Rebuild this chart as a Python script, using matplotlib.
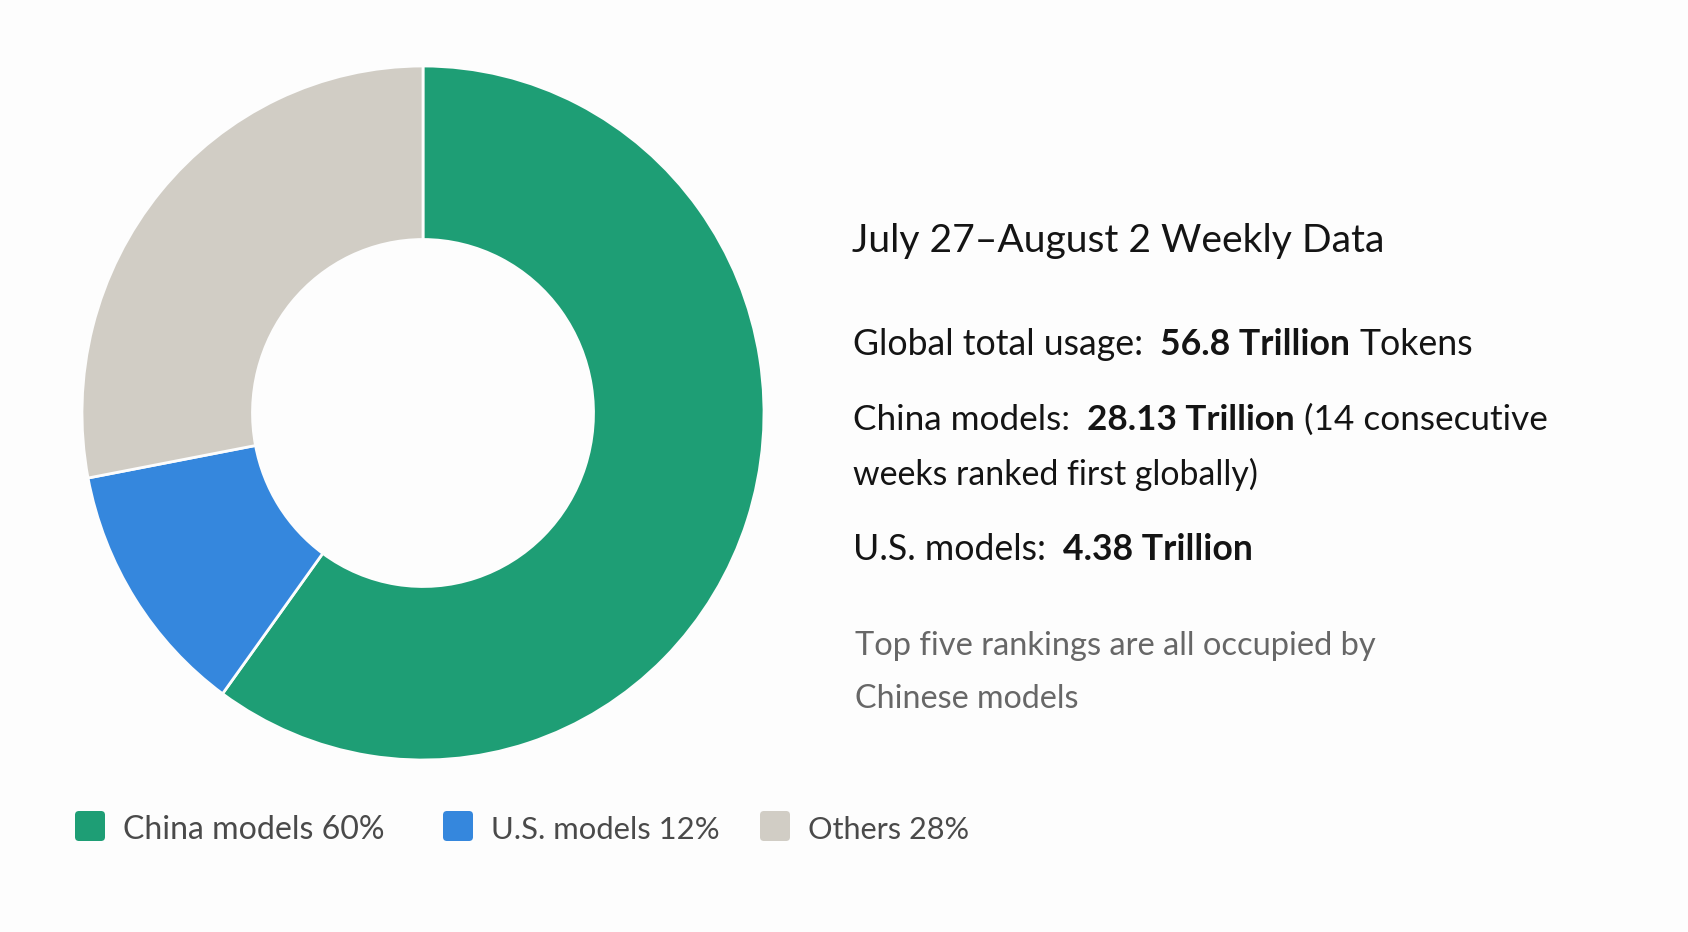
import matplotlib
matplotlib.use("Agg")
import matplotlib.pyplot as plt
from matplotlib.patches import FancyBboxPatch

# --- data -------------------------------------------------------------
categories = ["China models", "U.S. models", "Others"]
shares = [60, 12, 28]
colors = ["#1e9e75", "#3587dd", "#d1cdc5"]

title = "July 27\u2013August 2 Weekly Data"
total_usage = "56.8"
china_usage = "28.13"
us_usage = "4.38"
streak_weeks = 14
note_lines = ["Top five rankings are all occupied by", "Chinese models"]

# --- layout (pixels) ----------------------------------------------------
W, H = 1688, 932
BG = "#fdfdfd"
plt.rcParams["font.family"] = ["Lato", "DejaVu Sans"]

fig = plt.figure(figsize=(W / 100, H / 100), dpi=100)
fig.patch.set_facecolor(BG)

# overlay axes in pixel coordinates for the text block and legend
ov = fig.add_axes([0, 0, 1, 1])
ov.set_xlim(0, W)
ov.set_ylim(H, 0)
ov.axis("off")

# donut
ax = fig.add_axes([82 / W, (H - 760) / H, 682 / W, 694 / H])
ax.pie(shares, colors=colors, startangle=90, counterclock=False,
       wedgeprops=dict(width=0.5, edgecolor=BG, linewidth=2.0))
ax.set_aspect("auto")
ax.set_xlim(-1, 1)
ax.set_ylim(-1, 1)
ax.axis("off")

renderer = fig.canvas.get_renderer()


def space_width(size, weight):
    a = ov.text(0, 0, "x x", fontsize=size, fontweight=weight)
    b = ov.text(0, 0, "xx", fontsize=size, fontweight=weight)
    w = a.get_window_extent(renderer).width - b.get_window_extent(renderer).width
    a.remove()
    b.remove()
    return w


def draw_line(parts, x, y, width, color, size=24):
    """parts: list of (text, weight, spaces before). Scaled to fit width."""
    texts = [ov.text(x, y, s, fontsize=size, fontweight=wt, color=color,
                     ha="left", va="baseline") for s, wt, _ in parts]

    def layout():
        cx = x
        for t, (_, wt, gap) in zip(texts, parts):
            cx += gap * space_width(t.get_fontsize(), wt)
            t.set_x(cx)
            cx = t.get_window_extent(renderer).x1
        return cx - x

    w = layout()
    for t in texts:
        t.set_fontsize(size * width / w)
    layout()


DARK = "#141414"
GREY = "#676767"

draw_line([(title, "normal", 0)], 852, 252, 533, DARK)
draw_line([("Global total usage:", "normal", 0),
           (f"{total_usage} Trillion", "bold", 2),
           ("Tokens", "normal", 1)], 853, 355, 622, DARK)
draw_line([("China models:", "normal", 0),
           (f"{china_usage} Trillion", "bold", 2),
           (f"({streak_weeks} consecutive", "normal", 1)], 853, 430, 694, DARK)
draw_line([("weeks ranked first globally)", "normal", 0)], 853, 485, 406, DARK)
draw_line([("U.S. models:", "normal", 0),
           (f"{us_usage} Trillion", "bold", 2)], 853, 560, 400, DARK)
draw_line([(note_lines[0], "normal", 0)], 855, 655, 521, GREY)
draw_line([(note_lines[1], "normal", 0)], 855, 708, 223, GREY)

# legend
leg_x = [75, 443, 760]
leg_w = [262, 229, 162]
for cat, pct, col, lx, tw in zip(categories, shares, colors, leg_x, leg_w):
    ov.add_patch(FancyBboxPatch((lx + 4, 815), 22, 22,
                                boxstyle="round,pad=4", fc=col, ec="none"))
    draw_line([(f"{cat} {pct}%", "normal", 0)], lx + 48, 839, tw, "#4a4a4a")

fig.savefig("out.png", dpi=100, facecolor=BG)
